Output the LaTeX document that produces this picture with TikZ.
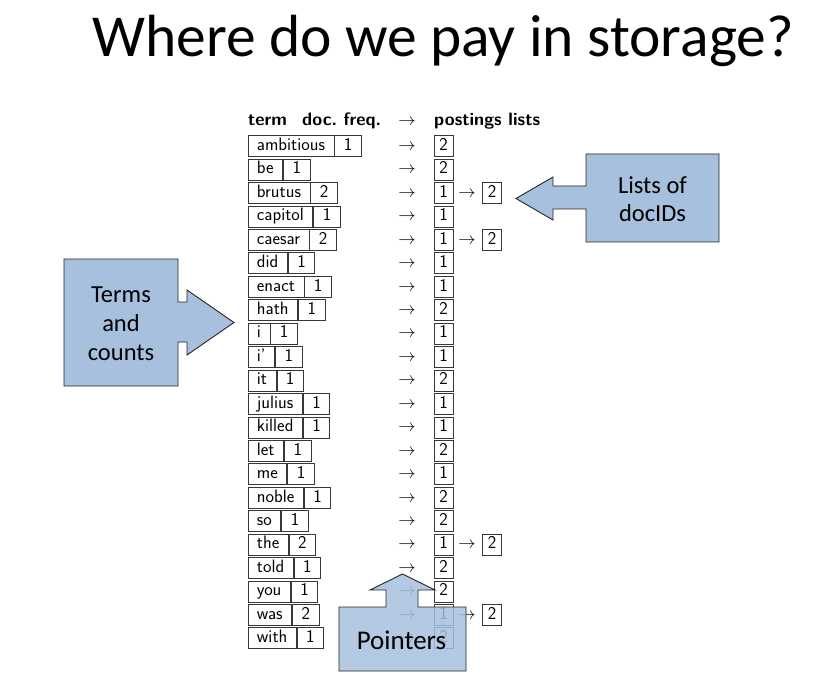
\documentclass[tikz,border=0pt]{standalone}
\usepackage{fontspec}
\setmainfont{Carlito}
\definecolor{calloutfill}{RGB}{167,192,222}
\definecolor{boxline}{RGB}{55,55,55}
\newcommand{\tablefont}{\sffamily\fontsize{18}{21}\selectfont}
\begin{document}
\begin{tikzpicture}[x=1pt,y=-1pt,
  cell/.style={draw=boxline, line width=0.9pt, font=\tablefont,
    text height=12pt, text depth=3.5pt, inner xsep=9pt, inner ysep=2.75pt,
    minimum height=21pt},
  termcell/.style={cell, anchor=west},
  postcell/.style={cell, inner xsep=0pt, minimum width=19pt},
  ptr/.style={font=\tablefont, inner sep=0pt, text height=12pt, text depth=3.5pt},
  head/.style={font=\tablefont\bfseries, inner sep=0pt, anchor=base west},
  callout/.style={fill=calloutfill, draw=black!85, line width=0.9pt, line join=miter},
  callouttext/.style={align=center, inner sep=0pt}]
\useasboundingbox[fill=white] (0,0) rectangle (837,676);

% title
\node[anchor=base, inner sep=0pt, font=\fontsize{59.5}{70}\selectfont]
  (title) at (443,56.7) {Where do we pay in storage?};

% column headings
\node[head] (hterm) at (248,126) {term};
\node[head] (hfreq) at (302,126) {doc.\ freq.};
\node[ptr, anchor=base] (harr) at (407,126) {$\rightarrow$};
\node[head] (hpost) at (434,126) {postings lists};

% dictionary rows with their postings
\foreach \t/\c/\p [count=\i from 0] in {
  ambitious/1/2, be/1/2, brutus/2/1, capitol/1/1, caesar/2/1, did/1/1,
  enact/1/1, hath/1/2, i/1/1, i’/1/1, it/1/2, julius/1/1, killed/1/1,
  let/1/2, me/1/1, noble/1/2, so/1/2, the/2/1, told/1/2, you/1/2,
  was/2/1, with/1/2}{
  \pgfmathsetmacro\y{146.2+23.44*\i}
  \node[termcell] (term\i) at (247.5,\y) {\t};
  \node[termcell] (cnt\i) at (term\i.east) {\c};
  \node[ptr] (arr\i) at (407,\y) {$\rightarrow$};
  \node[postcell] (post\i) at (443.5,\y) {\p};
}

% second postings entries
\foreach \i in {2,4,17,20}{
  \node[ptr] (arrb\i) at (467,{146.2+23.44*\i}) {$\rightarrow$};
  \node[postcell] (postb\i) at (492,{146.2+23.44*\i}) {2};
}

% callout: terms and counts
\draw[callout] (64,259) -- (178,259) -- (178,302) -- (187,302) -- (187,290)
  -- (234,322.5) -- (187,355) -- (187,342) -- (178,342) -- (178,386)
  -- (64,386) -- cycle;
\node[callouttext, font=\fontsize{24.5}{29}\selectfont] (termslabel)
  at (121,324) {Terms\\and\\counts};

% callout: lists of docIDs
\draw[callout] (719,154) -- (586,154) -- (586,186) -- (553,186) -- (553,177)
  -- (516,198.5) -- (553,220) -- (553,209) -- (586,209) -- (586,242)
  -- (719,242) -- cycle;
\node[callouttext, font=\fontsize{24.5}{28.5}\selectfont] (listslabel)
  at (652.5,199) {Lists of\\docIDs};

% callout: pointers (semi-transparent, over the table)
\draw[callout, fill opacity=0.85] (339,607) -- (386,607) -- (386,590) -- (370,590)
  -- (402.5,574) -- (435,590) -- (418,590) -- (418,607) -- (466,607)
  -- (466,671) -- (339,671) -- cycle;
\node[callouttext, font=\fontsize{27}{31}\selectfont] (ptrlabel)
  at (401.5,640) {Pointers};
\end{tikzpicture}
\end{document}
